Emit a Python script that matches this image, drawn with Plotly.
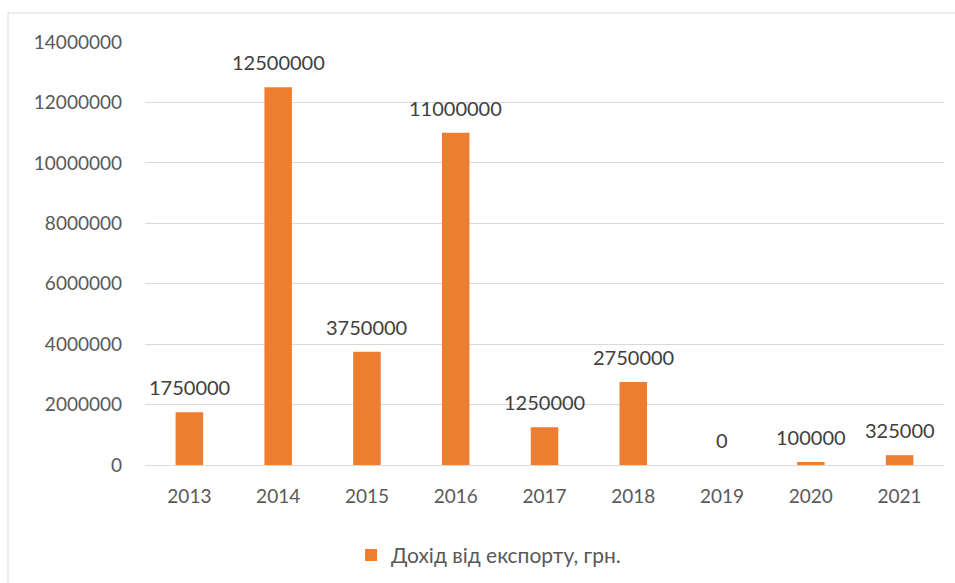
import plotly.graph_objects as go

years = ["2013", "2014", "2015", "2016", "2017", "2018", "2019", "2020", "2021"]
income = [1750000, 12500000, 3750000, 11000000, 1250000, 2750000, 0, 100000, 325000]
series_name = "Дохід від експорту, грн."

W, H = 955, 583
ml, mr, mt, mb = 145, 11, 42, 118
FONT = "Lato, Calibri, Carlito, sans-serif"
ORANGE = "#ED7D31"

fig = go.Figure()
fig.add_trace(go.Bar(
    x=years, y=income, name=series_name,
    marker=dict(color=ORANGE, line=dict(width=0)),
    showlegend=True,
))

for i, v in enumerate(income):
    fig.add_annotation(
        x=i, y=v, text=str(v), showarrow=False,
        yanchor="bottom", yshift=11,
        font=dict(family=FONT, size=20, color="#404040"),
    )

pw = W - ml - mr
ph = H - mt - mb
# outer chart border
fig.add_shape(
    type="rect", xref="paper", yref="paper",
    x0=(8 - ml) / pw, x1=(W + 5 - ml) / pw,
    y0=-(H + 5 - mt - ph) / ph, y1=1 + (mt - 13) / ph,
    line=dict(color="#d9d9d9", width=1), fillcolor="rgba(0,0,0,0)",
    layer="below",
)

fig.update_layout(
    width=W, height=H,
    margin=dict(l=ml, r=mr, t=mt, b=mb, pad=0, autoexpand=False),
    paper_bgcolor="white", plot_bgcolor="white",
    bargap=0.69,
    font=dict(family=FONT, size=19, color="#595959"),
    xaxis=dict(
        type="category", range=[-0.5, len(years) - 0.5],
        showgrid=False, showline=True, automargin=False,
        linecolor="#d9d9d9", linewidth=1, ticks="",
        tickfont=dict(size=19, color="#595959"), ticklabelstandoff=14,
    ),
    yaxis=dict(
        range=[0, 14000000], dtick=2000000, showgrid=True, automargin=False,
        gridcolor="#d9d9d9", gridwidth=1, zeroline=False,
        tickformat="d", ticks="", ticklabelstandoff=22,
        tickfont=dict(size=19, color="#595959"),
    ),
    legend=dict(
        orientation="h", x=0.43, xanchor="center", y=-0.165, yanchor="top",
        font=dict(size=21, color="#595959"), itemwidth=30,
    ),
)

fig.write_html("out.html")
